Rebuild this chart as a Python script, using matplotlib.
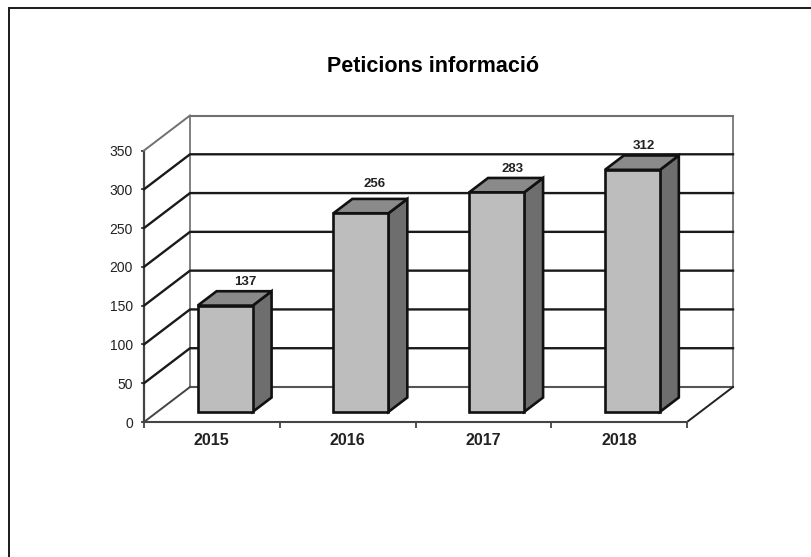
import matplotlib
matplotlib.use("Agg")
import matplotlib.pyplot as plt
from matplotlib.lines import Line2D
from matplotlib.patches import Polygon

years = ["2015", "2016", "2017", "2018"]
values = [137, 256, 283, 312]
y_ticks = [0, 50, 100, 150, 200, 250, 300, 350]
title = "Peticions informació"

W, H = 812, 557
plt.rcParams["font.family"] = ["Liberation Sans", "DejaVu Sans"]
fig = plt.figure(figsize=(W / 100, H / 100), dpi=100, facecolor="white")

# page frame: only the left and top edges are visible
fig.add_artist(Line2D([9.5 / W, 9.5 / W, 1], [0, 1 - 7.5 / H, 1 - 7.5 / H],
                      transform=fig.transFigure, color="#1a1a1a", lw=1.4, solid_joinstyle="miter"))

L, R, T, B = 144, 687, 150.5, 422
ax = fig.add_axes([L / W, 1 - B / H, (R - L) / W, (B - T) / H])
ax.set_xlim(0, len(years))
ax.set_ylim(0, 350)
ax.patch.set_alpha(0)
for s in ax.spines.values():
    s.set_visible(False)

px = len(years) / (R - L)   # data per pixel, x
py = 350 / (B - T)          # data per pixel, y
DX, DY = 46 * px, 35 * py   # full depth of the floor


def off(x, y, f):
    return (x + DX * f, y + DY * f)


nx = len(years)
# walls and floor edges
ax.plot([0, 0], [0, 350], color="#444444", lw=1.6, clip_on=False)
ax.plot([DX, DX], [DY, 350 + DY], color="#808080", lw=1.4, clip_on=False)
ax.plot([nx + DX, nx + DX], [DY, 350 + DY], color="#808080", lw=1.4, clip_on=False)
ax.plot([DX, nx + DX], [350 + DY, 350 + DY], color="#707070", lw=1.5, clip_on=False)
ax.plot([0, DX], [350, 350 + DY], color="#707070", lw=1.4, clip_on=False)
ax.plot([DX, nx + DX], [DY, DY], color="#555555", lw=1.5, clip_on=False)
ax.plot([0, DX], [0, DY], color="#444444", lw=1.4, clip_on=False)
ax.plot([nx, nx + DX], [0, DY], color="#222222", lw=1.4, clip_on=False)
# gridlines
for v in y_ticks[1:-1]:
    ax.plot([0, DX, nx + DX], [v, v + DY, v + DY], color="#1a1a1a", lw=1.7, clip_on=False)
ax.plot([0, nx], [0, 0], color="#444444", lw=1.5, clip_on=False)

# bars
BW = 55 * px
F0 = 0.29   # front face position in depth
F1 = 0.70   # back face position in depth
label_nudge = [(1, 0), (-5, 5.5), (-3, 0), (-8, 0)]   # pixels
for i, (year, v) in enumerate(zip(years, values)):
    cx = i + 0.5
    x0, x1 = cx - BW / 2, cx + BW / 2
    a = off(x0, 0, F0); b = off(x1, 0, F0)
    c = off(x1, v, F0); d = off(x0, v, F0)
    b2 = off(x1, 0, F1); c2 = off(x1, v, F1); d2 = off(x0, v, F1)
    kw = dict(ec="#111111", lw=1.9, joinstyle="miter", clip_on=False, zorder=3)
    ax.add_patch(Polygon([b, b2, c2, c], fc="#6e6e6e", **kw))
    ax.add_patch(Polygon([d, c, c2, d2], fc="#8a8a8a", **kw))
    ax.add_patch(Polygon([a, b, c, d], fc="#bdbdbd", **kw))
    nx_px, ny_px = label_nudge[i]
    ax.annotate(str(v), xy=off(cx, v, F1), xytext=(nx_px * 0.72, 2.5 + ny_px * 0.72),
                textcoords="offset points", ha="center", va="bottom",
                fontsize=9.5, fontweight="bold", color="#222222", zorder=4)

ax.set_xticks(range(nx + 1))
ax.set_xticklabels([])
ax.set_yticks(y_ticks)
ax.tick_params(axis="y", length=2.5, width=1.2, color="#333333", labelsize=10, pad=5.5, labelcolor="#222222")
ax.tick_params(axis="x", length=4, width=1.2, color="#333333")
for i, year in enumerate(years):
    ax.annotate(year, xy=(i + 0.5, 0), xytext=(0, -8), textcoords="offset points",
                ha="center", va="top", fontsize=11.5, fontweight="bold", color="#222222")

fig.text(433 / W, 1 - 66.5 / H, title, ha="center", va="center", fontsize=15.5,
         fontweight="bold", color="black")
fig.savefig("out.png", dpi=100)
